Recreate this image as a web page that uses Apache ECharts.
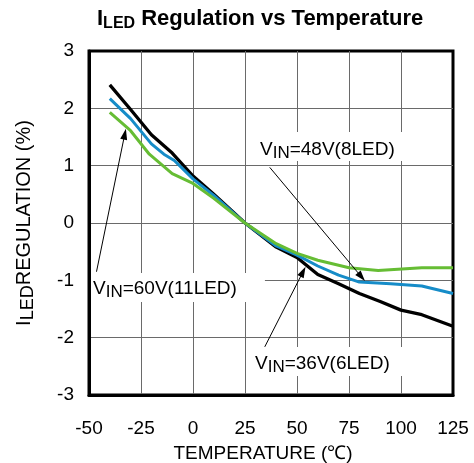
<!DOCTYPE html>
<html>
<head>
<meta charset="utf-8">
<script src="https://cdn.jsdelivr.net/npm/echarts@6/dist/echarts.min.js"></script>
<style>
  html, body { margin: 0; padding: 0; background: #fff; }
  #main { width: 474px; height: 463px; }
</style>
</head>
<body>
<div id="main"></div>
<script>
// VIN = 36V (6 LED), black
const temp36 = [-40, -30, -20, -10, 0, 10, 25, 40, 50, 60, 70, 80, 90, 100, 110, 125];
const reg36 = [2.41, 1.98, 1.54, 1.22, 0.82, 0.5, 0, -0.42, -0.6, -0.9, -1.06, -1.23, -1.37, -1.52, -1.6, -1.8];

// VIN = 48V (8 LED), blue
const temp48 = [-40, -30, -20, -14, -9, 0, 10, 25, 40, 50, 60, 70, 80, 95, 110, 125];
const reg48 = [2.17, 1.82, 1.38, 1.2, 1.09, 0.77, 0.48, 0, -0.4, -0.56, -0.75, -0.91, -1.03, -1.06, -1.1, -1.23];

// VIN = 60V (11 LED), green
const temp60 = [-40, -30, -21, -10, 0, 10, 25, 40, 50, 60, 75, 89, 110, 125];
const reg60 = [1.93, 1.61, 1.2, 0.86, 0.69, 0.43, 0, -0.36, -0.53, -0.65, -0.78, -0.83, -0.78, -0.78];

// annotation arrows, [from, to] in data units
const arrows = [
  [[36.9, 0.97], [81, -0.94]],   // 48V label -> blue
  [[-46.4, -0.85], [-32.8, 1.55]], // 60V label -> green
  [[34.5, -2.16], [52.9, -0.85]]   // 36V label -> black
];

const font = "'Liberation Sans', Arial, sans-serif";

const chart = echarts.init(document.getElementById("main"));

const pairs = (xs, ys) => xs.map((x, i) => [x, ys[i]]);

const subRich = (size, bold) => ({
  n: { fontSize: size, fontWeight: bold ? "bold" : "normal", fontFamily: font, color: "#000", lineHeight: size + 1, verticalAlign: "top" },
  s: { fontSize: size - 2, fontWeight: bold ? "bold" : "normal", fontFamily: font, color: "#000", lineHeight: size + 1, verticalAlign: "top", padding: [5, 0, 0, 0] }
});

const labelBox = (text, x, y, padding) => ({
  type: "text",
  z: 1,
  x: x,
  y: y,
  style: {
    text: text,
    rich: subRich(19, false),
    backgroundColor: "#fff",
    padding: padding
  }
});

const option = {
  animation: false,
  backgroundColor: "#fff",
  title: {
    text: "{n|I}{t|LED}{n| Regulation vs Temperature}",
    left: 92,
    top: 3,
    textStyle: {
      rich: {
        n: { fontSize: 22, fontWeight: "bold", fontFamily: font, color: "#000", lineHeight: 23, verticalAlign: "top" },
        t: { fontSize: 16, fontWeight: "bold", fontFamily: font, color: "#000", lineHeight: 23, verticalAlign: "top", padding: [8, 0, 0, 0] }
      }
    }
  },
  grid: {
    left: 89,
    right: 21,
    top: 51,
    bottom: 68,
    outerBoundsMode: "none",
    show: true,
    borderColor: "#000",
    borderWidth: 3
  },
  xAxis: {
    type: "value",
    min: -50,
    max: 125,
    interval: 25,
    axisLine: { show: true, onZero: false, lineStyle: { color: "#000", width: 3 } },
    axisTick: { show: false },
    splitLine: { show: true, showMinLine: false, showMaxLine: false, lineStyle: { color: "#6a6a6a", width: 1 } },
    axisLabel: { fontSize: 19, color: "#000", fontFamily: font, margin: 24 },
    name: "TEMPERATURE (℃)",
    nameLocation: "middle",
    nameGap: 49,
    nameTextStyle: { fontSize: 19, color: "#000", fontFamily: font, padding: [0, 16, 0, 0] }
  },
  yAxis: {
    type: "value",
    min: -3,
    max: 3,
    interval: 1,
    axisLine: { show: true, onZero: false, lineStyle: { color: "#000", width: 3 } },
    axisTick: { show: false },
    splitLine: { show: true, showMinLine: false, showMaxLine: false, lineStyle: { color: "#6a6a6a", width: 1 } },
    axisLabel: { fontSize: 19, color: "#000", fontFamily: font, margin: 15 },
    name: "{n|I}{s|LED}{n|REGULATION (%)}",
    nameLocation: "middle",
    nameGap: 54,
    nameTextStyle: { rich: subRich(20, false) }
  },
  graphic: [
    labelBox("{n|V}{s|IN}{n|=48V(8LED)}", 253, 132, [8, 12, 1, 7]),
    labelBox("{n|V}{s|IN}{n|=60V(11LED)}", 91, 273, [6, 28, 3, 2]),
    labelBox("{n|V}{s|IN}{n|=36V(6LED)}", 248, 347, [7, 25, 2, 7])
  ],
  series: [
    {
      name: "36V(6LED)",
      type: "line",
      showSymbol: false,
      z: 2,
      data: pairs(temp36, reg36),
      lineStyle: { color: "#000", width: 3.3 }
    },
    {
      name: "48V(8LED)",
      type: "line",
      showSymbol: false,
      z: 3,
      data: pairs(temp48, reg48),
      lineStyle: { color: "#168cc8", width: 3 }
    },
    {
      name: "60V(11LED)",
      type: "line",
      showSymbol: false,
      z: 4,
      data: pairs(temp60, reg60),
      lineStyle: { color: "#66bd34", width: 3 },
      markLine: {
        silent: true,
        symbol: ["none", "triangle"],
        symbolSize: [0, 9],
        label: { show: false },
        lineStyle: { color: "#000", width: 1, type: "solid" },
        emphasis: { disabled: true },
        data: arrows.map(a => [
          { coord: a[0], symbol: "none" },
          { coord: a[1], symbol: "triangle", symbolSize: [7, 11] }
        ])
      }
    }
  ]
};

chart.setOption(option);
</script>
</body>
</html>
